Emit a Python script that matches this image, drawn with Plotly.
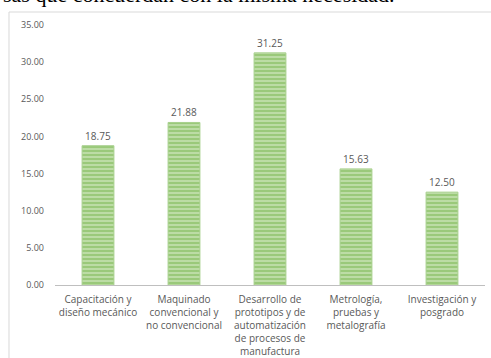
import plotly.graph_objects as go

categories = [
    "Capacitación y<br>diseño mecánico",
    "Maquinado<br>convencional y<br>no convencional",
    "Desarrollo de<br>prototipos y de<br>automatización<br>de procesos de<br>manufactura",
    "Metrología,<br>pruebas y<br>metalografía",
    "Investigación y<br>posgrado",
]
values = [18.75, 21.88, 31.25, 15.63, 12.50]
tick_vals = [0, 5, 10, 15, 20, 25, 30, 35]
tick_text = ["0.00", "5.00", "10.00", "15.00", "20.00", "25.00", "30.00", "35.00"]
header_text = "sas que concuerdan con la misma necesidad."

fig = go.Figure()
fig.add_trace(go.Bar(
    x=categories,
    y=values,
    text=[f"{v:.2f}" for v in values],
    textposition="outside",
    textfont=dict(family="Open Sans, Liberation Sans, sans-serif", size=10, color="#595959"),
    cliponaxis=False,
    marker=dict(
        color="#bcdca5",
        line=dict(color="#a8d08d", width=1),
        pattern=dict(shape="-", fgcolor="#78b54f", size=4, solidity=0.5, fillmode="overlay"),
    ),
    width=0.37,
))

fig.update_layout(
    width=491, height=358,
    margin=dict(l=55, r=6, t=25, b=73, autoexpand=False),
    paper_bgcolor="white", plot_bgcolor="white",
    showlegend=False,
    font=dict(family="Open Sans, Liberation Sans, sans-serif", size=10, color="#595959"),
    xaxis=dict(
        showline=True, linecolor="#bfbfbf", linewidth=1,
        ticks="", tickfont=dict(size=10, color="#595959"),
        showgrid=False, automargin=False, ticklabelstandoff=5,
    ),
    yaxis=dict(
        range=[0, 35], tickvals=tick_vals, ticktext=tick_text,
        showgrid=False, zeroline=False, showline=False,
        tickfont=dict(size=9, color="#595959"),
        ticklabelstandoff=10, automargin=False,
    ),
    shapes=[dict(
        type="rect", xref="paper", yref="paper",
        x0=-0.107, x1=1.1, y0=-0.4, y1=1.05,
        line=dict(color="#d9d9d9", width=1), fillcolor="rgba(0,0,0,0)",
    )],
    annotations=[dict(
        text=header_text, xref="paper", yref="paper",
        x=-0.125, y=1.062, xanchor="left", yanchor="bottom",
        showarrow=False,
        font=dict(family="Liberation Serif, Times New Roman, serif", size=22, color="black"),
    )],
)

fig.write_html(
    "out.html",
    config={"displayModeBar": False},
    post_script="document.body.style.margin='0';document.body.style.overflow='hidden';",
)
